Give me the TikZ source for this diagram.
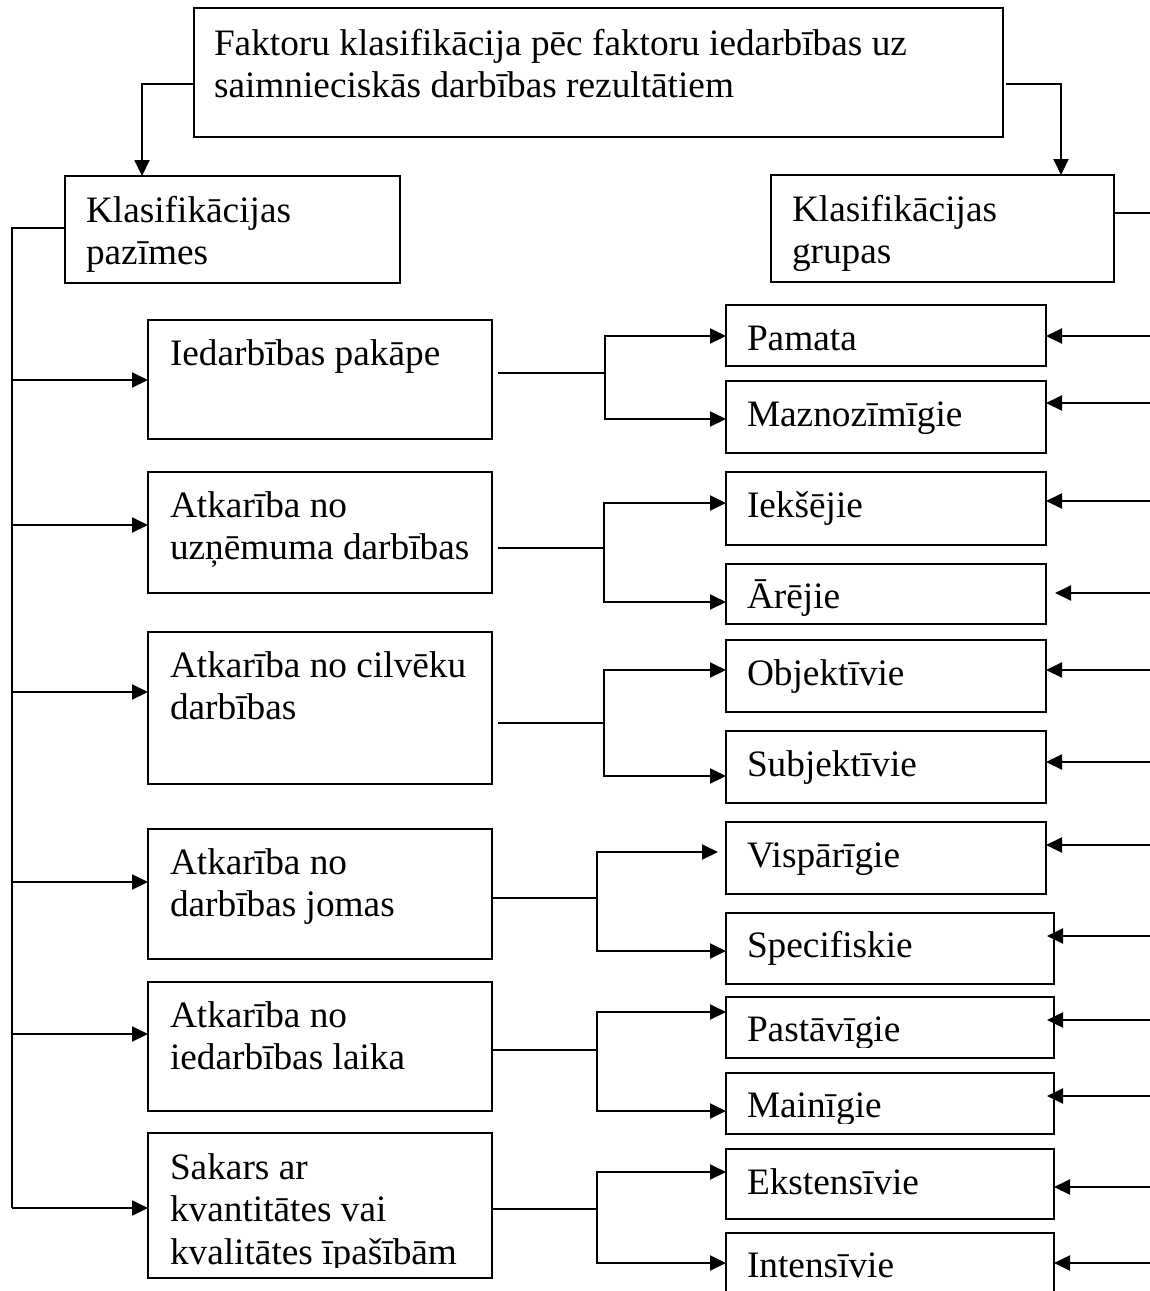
\documentclass[tikz,border=0pt]{standalone}
\usepackage{fontspec}
\setmainfont{Liberation Serif}
\usetikzlibrary{arrows.meta}
% several lines of text, baseline at the first line
\newcommand{\txtlines}[1]{\begin{tabular}[t]{@{}l@{}}#1\end{tabular}}
\begin{document}
\begin{tikzpicture}[x=1bp,y=-1bp,
  box/.style={draw, line width=2.2bp, inner sep=0pt, outer sep=0pt, anchor=north west},
  lbl/.style={anchor=base west, inner sep=0pt, outer sep=0pt,
              font=\fontsize{37.3bp}{42.5bp}\selectfont},
  link/.style={line width=2bp},
  arr/.style={link, -{Triangle[length=16bp,width=15bp]}}]

\fill[white] (0,0) rectangle (1150,1291);
\useasboundingbox (0,0) rectangle (1150,1291);
\clip (0,0) rectangle (1150,1291);

% ---------- header and the two column heads ----------
\node[box, minimum width=809bp, minimum height=129bp] (top) at (194,8) {};
\node[lbl] (top-t) at ([shift={(20bp,-47bp)}]top.north west)
  {\txtlines{Faktoru klasifikācija pēc faktoru iedarbības uz\\saimnieciskās darbības rezultātiem}};

\node[box, minimum width=335bp, minimum height=107bp] (kp) at (65,176) {};
\node[lbl] (kp-t) at ([shift={(21bp,-46bp)}]kp.north west) {\txtlines{Klasifikācijas\\pazīmes}};

\node[box, minimum width=343bp, minimum height=107bp] (kg) at (771,175) {};
\node[lbl] (kg-t) at ([shift={(21bp,-46bp)}]kg.north west) {\txtlines{Klasifikācijas\\grupas}};

\draw[arr] ([yshift=-76bp]top.north west) -| ([xshift=77bp]kp.north west);
\draw[arr] ([shift={(3bp,-76bp)}]top.north east) -| ([xshift=-53bp]kg.north east);

% ---------- left column: classification features ----------
\node[box, minimum width=344bp, minimum height=119bp] (b1) at (148,320) {};
\node[box, minimum width=344bp, minimum height=121bp] (b2) at (148,472) {};
\node[box, minimum width=344bp, minimum height=152bp] (b3) at (148,632) {};
\node[box, minimum width=344bp, minimum height=130bp] (b4) at (148,829) {};
\node[box, minimum width=344bp, minimum height=129bp] (b5) at (148,982) {};
\node[box, minimum width=344bp, minimum height=145bp] (b6) at (148,1133) {};

\node[lbl] (b1-t) at ([shift={(22bp,-45bp)}]b1.north west) {\txtlines{Iedarbības pakāpe}};
\node[lbl] (b2-t) at ([shift={(22bp,-45bp)}]b2.north west) {\txtlines{Atkarība no\\uzņēmuma darbības}};
\node[lbl] (b3-t) at ([shift={(22bp,-45bp)}]b3.north west) {\txtlines{Atkarība no cilvēku\\darbības}};
\node[lbl] (b4-t) at ([shift={(22bp,-45bp)}]b4.north west) {\txtlines{Atkarība no\\darbības jomas}};
\node[lbl] (b5-t) at ([shift={(22bp,-45bp)}]b5.north west) {\txtlines{Atkarība no\\iedarbības laika}};
\begin{scope}
  \clip (b6.north west) rectangle ([yshift=11bp]b6.south east);
  \node[lbl] (b6-t) at ([shift={(22bp,-46bp)}]b6.north west)
    {\txtlines{Sakars ar\\kvantitātes vai\\kvalitātes īpašībām}};
\end{scope}

% ---------- right column: classification groups ----------
\node[box, minimum width=320bp, minimum height=61bp] (pam)  at (726,305) {};
\node[box, minimum width=320bp, minimum height=72bp] (maz)  at (726,381) {};
\node[box, minimum width=320bp, minimum height=73bp] (iek)  at (726,472) {};
\node[box, minimum width=320bp, minimum height=60bp] (are)  at (726,564) {};
\node[box, minimum width=320bp, minimum height=72bp] (obj)  at (726,640) {};
\node[box, minimum width=320bp, minimum height=72bp] (sub)  at (726,731) {};
\node[box, minimum width=320bp, minimum height=72bp] (visp) at (726,822) {};
\node[box, minimum width=328bp, minimum height=71bp] (spec) at (726,913) {};
\node[box, minimum width=328bp, minimum height=61bp] (past) at (726,997) {};
\node[box, minimum width=328bp, minimum height=61bp] (main) at (726,1073) {};
\node[box, minimum width=328bp, minimum height=70bp] (eks)  at (726,1149) {};
\node[box, minimum width=328bp, minimum height=80bp] (int)  at (726,1233) {};

\node[lbl] (pam-t)  at ([shift={(21bp,-45bp)}]pam.north west)  {Pamata};
\node[lbl] (maz-t)  at ([shift={(21bp,-45bp)}]maz.north west)  {Maznozīmīgie};
\node[lbl] (iek-t)  at ([shift={(21bp,-45bp)}]iek.north west)  {Iekšējie};
\begin{scope}
  \clip (are.north west) rectangle ([yshift=9bp]are.south east);
  \node[lbl] (are-t) at ([shift={(21bp,-44bp)}]are.north west) {Ārējie};
\end{scope}
\node[lbl] (obj-t)  at ([shift={(21bp,-45bp)}]obj.north west)  {Objektīvie};
\node[lbl] (sub-t)  at ([shift={(21bp,-45bp)}]sub.north west)  {Subjektīvie};
\node[lbl] (visp-t) at ([shift={(21bp,-45bp)}]visp.north west) {Vispārīgie};
\node[lbl] (spec-t) at ([shift={(21bp,-44bp)}]spec.north west) {Specifiskie};
\begin{scope}
  \clip (past.north west) rectangle ([yshift=11bp]past.south east);
  \node[lbl] (past-t) at ([shift={(21bp,-44bp)}]past.north west) {Pastāvīgie};
\end{scope}
\begin{scope}
  \clip (main.north west) rectangle ([yshift=11bp]main.south east);
  \node[lbl] (main-t) at ([shift={(21bp,-44bp)}]main.north west) {Mainīgie};
\end{scope}
\node[lbl] (eks-t)  at ([shift={(21bp,-45bp)}]eks.north west)  {Ekstensīvie};
\node[lbl] (int-t)  at ([shift={(21bp,-44bp)}]int.north west)  {Intensīvie};

% ---------- spine on the left feeding every feature ----------
\coordinate (s1) at (12,380);
\coordinate (s2) at (12,525);
\coordinate (s3) at (12,692);
\coordinate (s4) at (12,882);
\coordinate (s5) at (12,1034);
\coordinate (s6) at (12,1208);
\draw[link] ([yshift=-52bp]kp.north west) -| (s6);
\foreach \i in {1,...,6} {\draw[arr] (s\i) -- (s\i -| b\i.west);}

% ---------- forks from each feature to its two groups ----------
\coordinate (j1) at (605,373);  \coordinate (j1a) at (605,336);  \coordinate (j1b) at (605,419);
\coordinate (j2) at (604,548);  \coordinate (j2a) at (604,503);  \coordinate (j2b) at (604,602);
\coordinate (j3) at (604,723);  \coordinate (j3a) at (604,670);  \coordinate (j3b) at (604,776);
\coordinate (j4) at (597,898);  \coordinate (j4a) at (597,852);  \coordinate (j4b) at (597,951);
\coordinate (j5) at (597,1050); \coordinate (j5a) at (597,1012); \coordinate (j5b) at (597,1111);
\coordinate (j6) at (597,1209); \coordinate (j6a) at (597,1172); \coordinate (j6b) at (597,1263);

\draw[link] (j1 -| b1.east) ++(6bp,0) -- (j1);
\draw[link] (j2 -| b2.east) ++(6bp,0) -- (j2);
\draw[link] (j3 -| b3.east) ++(6bp,0) -- (j3);
\draw[link] (j4 -| b4.east) -- (j4);
\draw[link] (j5 -| b5.east) -- (j5);
\draw[link] (j6 -| b6.east) -- (j6);

\draw[arr] (j1) -- (j1a) -- (j1a -| pam.west);
\draw[arr] (j1) -- (j1b) -- (j1b -| maz.west);
\draw[arr] (j2) -- (j2a) -- (j2a -| iek.west);
\draw[arr] (j2) -- (j2b) -- (j2b -| are.west);
\draw[arr] (j3) -- (j3a) -- (j3a -| obj.west);
\draw[arr] (j3) -- (j3b) -- (j3b -| sub.west);
\draw[arr] (j4) -- (j4a) -- ([xshift=-8bp]j4a -| visp.west);
\draw[arr] (j4) -- (j4b) -- (j4b -| spec.west);
\draw[arr] (j5) -- (j5a) -- (j5a -| past.west);
\draw[arr] (j5) -- (j5b) -- (j5b -| main.west);
\draw[arr] (j6) -- (j6a) -- (j6a -| eks.west);
\draw[arr] (j6) -- (j6b) -- (j6b -| int.west);

% ---------- lines coming in from the right margin ----------
\draw[link] ([yshift=-38bp]kg.north east) -- ++(40bp,0);
\coordinate (r1)  at (1152,336);
\coordinate (r2)  at (1152,403);
\coordinate (r3)  at (1152,501);
\coordinate (r4)  at (1152,593);
\coordinate (r5)  at (1152,670);
\coordinate (r6)  at (1152,762);
\coordinate (r7)  at (1152,845);
\coordinate (r8)  at (1152,936);
\coordinate (r9)  at (1152,1020);
\coordinate (r10) at (1152,1096);
\coordinate (r11) at (1152,1187);
\coordinate (r12) at (1152,1263);
\draw[arr] (r1)  -- (r1 -| pam.east);
\draw[arr] (r2)  -- (r2 -| maz.east);
\draw[arr] (r3)  -- (r3 -| iek.east);
\draw[arr] (r4)  -- ([xshift=9bp]r4 -| are.east);
\draw[arr] (r5)  -- (r5 -| obj.east);
\draw[arr] (r6)  -- (r6 -| sub.east);
\draw[arr] (r7)  -- (r7 -| visp.east);
\draw[arr] (r8)  -- ([xshift=-7bp]r8 -| spec.east);
\draw[arr] (r9)  -- ([xshift=-7bp]r9 -| past.east);
\draw[arr] (r10) -- ([xshift=-7bp]r10 -| main.east);
\draw[arr] (r11) -- (r11 -| eks.east);
\draw[arr] (r12) -- (r12 -| int.east);
\end{tikzpicture}
\end{document}
